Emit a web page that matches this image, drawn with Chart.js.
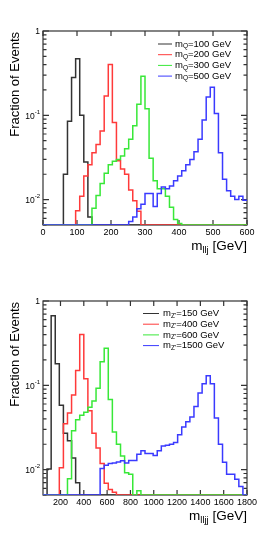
<!DOCTYPE html>
<html>
<head>
<meta charset="utf-8">
<script src="https://cdn.jsdelivr.net/npm/chart.js@4"></script>
<style>
  html,body{margin:0;padding:0;background:#fff;}
  .panel{width:277px;height:270px;}
  canvas{display:block;}
</style>
</head>
<body>
<div class="panel"><canvas id="cq" width="277" height="270"></canvas></div>
<div class="panel"><canvas id="cz" width="277" height="270"></canvas></div>
<script>
/* ---- top panel: m_llj, 50 bins of 12 GeV from 0 to 600 ---- */
const Q_START=0, Q_BIN=12;
const Q_XTICKS=[0,100,200,300,400,500,600];
const Q_MASSES=['100','200','300','500'];
const Q100=[0,0,0,0,0,0.020,0.085,0.28,0.47,0.10,0.028,0.0062,0,0,0,0,0,0,0,0,
  0,0,0,0,0,0,0,0,0,0,0,0,0,0,0,0,0,0,0,0,0,0,0,0,0,0,0,0,0,0];
const Q200=[0,0,0,0,0,0,0,0,0.0074,0.011,0.019,0.026,0.036,0.045,0.065,0.17,0.40,0.082,0.029,0.023,
  0.020,0.013,0.0097,0.0073,0,0,0,0,0,0,0,0,0,0,0,0,0,0,0,0,0,0,0,0,0,0,0,0,0,0];
const Q300=[0,0,0,0,0,0,0,0,0,0,0,0,0.0079,0.0112,0.0155,0.0205,0.026,0.0286,0.030,0.033,
  0.040,0.052,0.075,0.135,0.29,0.12,0.031,0.0167,0.0135,0.0135,0.011,0.0081,0.0058,0.0052,0,0,0,0,0,0,0,0,0,0,0,0,0,0,0,0];
const Q500=[0,0,0,0,0,0,0,0,0,0,0,0,0,0,0,0,0,0,0,0,
  0,0.0055,0.0062,0.0078,0.0088,0.0118,0.0118,0.0083,0.0118,0.0141,0.0135,0.0145,0.0167,0.019,0.022,0.026,0.030,0.037,0.052,0.088,
  0.165,0.215,0.105,0.036,0.0175,0.0127,0.011,0.010,0.011,0.0098];

/* ---- bottom panel: m_lljj, 50 bins of 35 GeV from 50 to 1800 ---- */
const Z_START=50, Z_BIN=35;
const Z_XTICKS=[200,400,600,800,1000,1200,1400,1600,1800];
const Z_MASSES=['150','400','600','1500'];
const Z150=[0,0.0102,0.67,0.18,0.058,0.027,0.022,0.0137,0.007,0,0,0,0,0,0,0,0,0,0,0,
  0,0,0,0,0,0,0,0,0,0,0,0,0,0,0,0,0,0,0,0,0,0,0,0,0,0,0,0,0,0];
const Z400=[0,0,0,0,0.0105,0.035,0.047,0.077,0.15,0.40,0.12,0.05,0.027,0.018,0.0118,0.0069,0.0058,0.0054,0,0,
  0,0,0,0,0,0,0,0,0,0,0,0,0,0,0,0,0,0,0,0,0,0,0,0,0,0,0,0,0,0];
const Z600=[0,0,0,0,0,0,0.0078,0.029,0.039,0.044,0.048,0.055,0.065,0.092,0.19,0.276,0.068,0.028,0.020,0.0145,
  0.0092,0.0088,0,0.0056,0,0,0,0,0,0,0,0,0,0,0,0,0,0,0,0,0,0,0,0,0,0,0,0,0,0];
const Z1500=[0,0,0,0,0,0,0,0,0,0,0,0,0,0,0.0103,0.0113,0.0118,0.012,0.0123,0.0127,
  0.012,0.0128,0.0128,0.0152,0.0167,0.0155,0.0155,0.0147,0.0167,0.019,0.0195,0.020,0.021,0.026,0.032,0.037,0.042,0.056,0.081,0.104,
  0.13,0.104,0.041,0.020,0.0122,0.0088,0.0088,0.0077,0.0063,0];

const Y_MIN=0.005, Y_MAX=1;
const Y_LABELS=[1,0.1,0.01];
const COLORS=['#333','#ff3a3a','#38e838','#3a3aff'];
const FONT="'Liberation Sans', Arial, sans-serif";

// histogram -> stepped points at bin edges; empty bins sit on the axis floor
function histPoints(vals,start,w){
  const pts=vals.map((v,i)=>({x:start+i*w,y:v>0?v:Y_MIN}));
  pts.push({x:start+vals.length*w,y:vals[vals.length-1]>0?vals[vals.length-1]:Y_MIN});
  return pts;
}

function txtRun(ctx,x,y,parts){
  let cx=x;
  parts.forEach(p=>{
    ctx.font=p.size+'px '+FONT;
    ctx.fillText(p.t,cx,y+(p.dy||0));
    cx+=ctx.measureText(p.t).width;
  });
  return cx-x;
}
function runWidth(ctx,parts){
  let w=0;
  parts.forEach(p=>{ctx.font=p.size+'px '+FONT;w+=ctx.measureText(p.t).width;});
  return w;
}

const histFrame={
  id:'histFrame',
  beforeDatasetsDraw(chart,args,o){
    const {ctx,chartArea:a,scales:{x,y}}=chart;
    ctx.save();
    ctx.strokeStyle='#333'; ctx.lineWidth=1.2;
    ctx.strokeRect(a.left,a.top,a.right-a.left,a.bottom-a.top);
    ctx.beginPath();
    o.xticks.forEach(v=>{
      const px=x.getPixelForValue(v);
      ctx.moveTo(px,a.top); ctx.lineTo(px,a.top+5);
      ctx.moveTo(px,a.bottom); ctx.lineTo(px,a.bottom-5);
    });
    for(let e=-3;e<=0;e++) for(let m=1;m<10;m++){
      const v=m*Math.pow(10,e);
      if(v<Y_MIN||v>Y_MAX) continue;
      const py=y.getPixelForValue(v), len=m===1?6:3.5;
      ctx.moveTo(a.left,py); ctx.lineTo(a.left+len,py);
      ctx.moveTo(a.right,py); ctx.lineTo(a.right-len,py);
    }
    ctx.stroke();
    ctx.restore();
  },
  afterDraw(chart,args,o){
    const {ctx,chartArea:a,scales:{y}}=chart;
    ctx.save();
    ctx.fillStyle='#000';
    // y tick labels
    ctx.textBaseline='middle';
    Y_LABELS.forEach(v=>{
      const py=y.getPixelForValue(v), xr=a.left-3;
      if(v===1){ ctx.font='8.5px '+FONT; ctx.textAlign='right'; ctx.fillText('1',xr,py+0.5); return; }
      const ex=String(Math.round(Math.log10(v)));
      ctx.textAlign='left';
      ctx.font='6px '+FONT; const ew=ctx.measureText(ex).width;
      ctx.font='8.5px '+FONT; const bw=ctx.measureText('10').width;
      ctx.fillText('10',xr-ew-bw,py+1);
      ctx.font='6px '+FONT; ctx.fillText(ex,xr-ew,py-3);
    });
    // x title, right aligned
    ctx.textAlign='left'; ctx.textBaseline='alphabetic';
    const xt=[{t:'m',size:13.5},{t:o.xsub,size:9.5,dy:3},{t:' [GeV]',size:13.5}];
    txtRun(ctx,a.right-runWidth(ctx,xt),250,xt);
    // y title
    ctx.save();
    ctx.translate(19,32); ctx.rotate(-Math.PI/2);
    ctx.font='13px '+FONT; ctx.textAlign='right';
    ctx.fillText('Fraction of Events',0,0);
    ctx.restore();
    // legend
    ctx.textBaseline='middle'; ctx.textAlign='left';
    o.masses.forEach((m,i)=>{
      const ly=o.ly+i*10.7;
      ctx.strokeStyle=COLORS[i]; ctx.lineWidth=1;
      ctx.beginPath(); ctx.moveTo(o.lx0,ly); ctx.lineTo(o.lx1,ly); ctx.stroke();
      txtRun(ctx,o.tx,ly,[{t:'m',size:9.5},{t:o.lsub,size:6.5,dy:2.5},{t:'='+m+' GeV',size:9.5}]);
    });
    ctx.restore();
  }
};

function makeChart(id,series,start,w,xmin,xmax,xticks,fopts){
  const datasets=series.map((s,i)=>({
    data:histPoints(s,start,w),
    borderColor:COLORS[i],borderWidth:1.5,pointRadius:0,fill:false,
    stepped:'before',tension:0,order:series.length-i
  }));
  return new Chart(document.getElementById(id),{
    type:'line',
    data:{datasets},
    plugins:[histFrame],
    options:{
      responsive:false,animation:false,
      layout:{padding:{left:0,top:31,right:30,bottom:0}},
      plugins:{legend:{display:false},tooltip:{enabled:false},histFrame:fopts},
      scales:{
        x:{type:'linear',min:xmin,max:xmax,
          grid:{display:false,drawTicks:false},border:{display:false},
          afterBuildTicks:s=>{s.ticks=xticks.map(v=>({value:v}));},
          afterFit:s=>{s.height=45;},
          ticks:{padding:2,maxRotation:0,autoSkip:false,color:'#000',font:{family:FONT,size:9},callback:v=>String(v)}},
        y:{type:'logarithmic',min:Y_MIN,max:Y_MAX,
          grid:{display:false},border:{display:false},
          ticks:{display:false},
          afterFit:s=>{s.width=43;}}
      }
    }
  });
}

makeChart('cq',[Q100,Q200,Q300,Q500],Q_START,Q_BIN,0,600,Q_XTICKS,
  {xticks:Q_XTICKS,xsub:'llj',masses:Q_MASSES,lsub:'Q',lx0:158,lx1:172,tx:175,ly:44});
makeChart('cz',[Z150,Z400,Z600,Z1500],Z_START,Z_BIN,50,1800,Z_XTICKS,
  {xticks:Z_XTICKS,xsub:'lljj',masses:Z_MASSES,lsub:"Z'",lx0:143,lx1:159,tx:163,ly:43.5});
</script>
</body>
</html>
